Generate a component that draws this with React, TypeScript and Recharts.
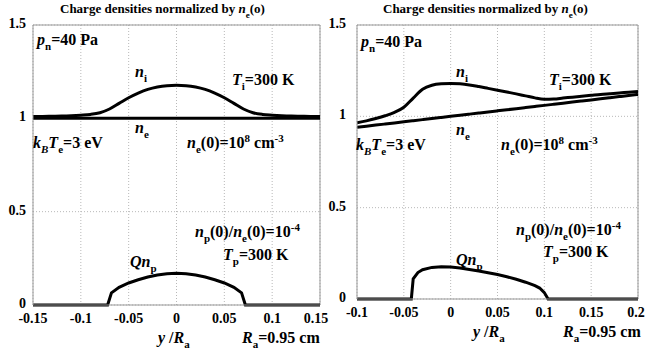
import React from "react";
import { CartesianGrid, Line, LineChart, ReferenceLine, XAxis, YAxis } from "recharts";

// ---- left panel: symmetric case ----
const leftX = [
  -0.15, -0.14, -0.13, -0.12, -0.11, -0.1, -0.09, -0.08, -0.07, -0.06, -0.05, -0.04, -0.03, -0.02, -0.01, 0,
  0.01, 0.02, 0.03, 0.04, 0.05, 0.06, 0.07, 0.08, 0.09, 0.1, 0.11, 0.12, 0.13, 0.14, 0.15,
];
const leftNi = [
  1.01, 1.01, 1.011, 1.012, 1.014, 1.017, 1.021, 1.03, 1.05, 1.08, 1.11, 1.135, 1.155, 1.168, 1.175, 1.177,
  1.175, 1.168, 1.155, 1.135, 1.11, 1.08, 1.05, 1.03, 1.021, 1.017, 1.014, 1.012, 1.011, 1.01, 1.01,
];
const leftNe = [
  1, 1, 1, 1, 1, 1, 1, 1, 1, 1, 1, 1, 1, 1, 1, 1, 1, 1, 1, 1, 1, 1, 1, 1, 1, 1, 1, 1, 1, 1, 1,
];
const leftQX = [
  -0.15, -0.1, -0.072, -0.068, -0.06, -0.05, -0.04, -0.03, -0.02, -0.01, 0, 0.01, 0.02, 0.03, 0.04, 0.05, 0.06,
  0.068, 0.072, 0.1, 0.15,
];
const leftQnp = [
  0, 0, 0, 0.065, 0.095, 0.118, 0.135, 0.15, 0.161, 0.168, 0.17, 0.168, 0.161, 0.15, 0.135, 0.118, 0.095, 0.065,
  0, 0, 0,
];
const leftTicks = [-0.15, -0.1, -0.05, 0, 0.05, 0.1, 0.15];

// ---- right panel: shifted case ----
const rightX = [
  -0.1, -0.09, -0.08, -0.07, -0.06, -0.05, -0.04, -0.03, -0.02, -0.01, 0, 0.01, 0.02, 0.03, 0.04, 0.05, 0.06,
  0.07, 0.08, 0.09, 0.1, 0.11, 0.12, 0.13, 0.14, 0.15, 0.16, 0.17, 0.18, 0.19, 0.2,
];
const rightNi = [
  0.965, 0.975, 0.988, 1.003, 1.022, 1.05, 1.1, 1.148, 1.17, 1.178, 1.18, 1.178, 1.172, 1.163, 1.153, 1.143,
  1.133, 1.123, 1.112, 1.101, 1.094, 1.095, 1.1, 1.105, 1.11, 1.115, 1.12, 1.124, 1.128, 1.132, 1.136,
];
const rightNe = [
  0.94, 0.946, 0.952, 0.958, 0.964, 0.97, 0.976, 0.982, 0.988, 0.994, 1.0, 1.006, 1.012, 1.018, 1.024, 1.03,
  1.036, 1.042, 1.048, 1.054, 1.06, 1.066, 1.072, 1.078, 1.084, 1.09, 1.096, 1.102, 1.108, 1.114, 1.12,
];
const rightQX = [
  -0.1, -0.05, -0.042, -0.04, -0.035, -0.03, -0.02, -0.01, 0, 0.01, 0.02, 0.03, 0.04, 0.05, 0.06, 0.07, 0.08,
  0.09, 0.095, 0.1, 0.104, 0.15, 0.2,
];
const rightQnp = [
  0, 0, 0, 0.11, 0.145, 0.16, 0.173, 0.177, 0.175, 0.17, 0.162, 0.153, 0.144, 0.134, 0.122, 0.108, 0.092, 0.073,
  0.06, 0.035, 0, 0, 0,
];
const rightTicks = [-0.1, -0.05, 0, 0.05, 0.1, 0.15, 0.2];

const yTicks = [0, 0.5, 1, 1.5];

const FONT = '"Liberation Serif", "DejaVu Serif", serif';
const TXT: React.CSSProperties = { fontFamily: FONT, fontWeight: 700 };
const zip = (xs: number[], vs: number[]) => xs.map((x, i) => ({ x, v: vs[i] }));

const XTick = (props: any) => {
  const { x, y, payload } = props;
  return (
    <text x={x} y={y + 16} textAnchor="middle" style={{ ...TXT, fontSize: 14 }} fill="#000">
      {String(payload.value)}
    </text>
  );
};

const makeYTick = (gap: number) => (props: any) => {
  const { x, y, payload } = props;
  return (
    <text x={x - gap} y={y + 3} textAnchor="end" style={{ ...TXT, fontSize: 14 }} fill="#000">
      {String(payload.value)}
    </text>
  );
};

type PanelProps = {
  left: number;
  width: number;
  yAxisWidth: number;
  marginRight: number;
  marginBottom: number;
  domain: [number, number];
  ticks: number[];
  ni: { x: number; v: number }[];
  ne: { x: number; v: number }[];
  qnp: { x: number; v: number }[];
  yGap: number;
};

function Panel(p: PanelProps) {
  return (
    <div style={{ position: "absolute", left: p.left, top: 0 }}>
      <LineChart
        width={p.width}
        height={356}
        margin={{ top: 25, right: p.marginRight, bottom: p.marginBottom, left: 0 }}
      >
        <CartesianGrid stroke="#b8b8b8" strokeDasharray="1 2" />
        <XAxis
          type="number"
          dataKey="x"
          domain={p.domain}
          ticks={p.ticks}
          allowDataOverflow
          height={30}
          axisLine={{ stroke: "#999" }}
          tickLine={false}
          tickSize={0}
          tick={<XTick />}
        />
        <YAxis
          type="number"
          domain={[0, 1.5]}
          ticks={yTicks}
          width={p.yAxisWidth}
          axisLine={{ stroke: "#999" }}
          tickLine={false}
          tickSize={0}
          tick={makeYTick(p.yGap)}
        />
        <ReferenceLine y={1.5} stroke="#999" />
        <ReferenceLine x={p.domain[1]} stroke="#999" />
        <Line data={p.ne} dataKey="v" type="monotone" stroke="#000" strokeWidth={3} dot={false} isAnimationActive={false} />
        <Line data={p.ni} dataKey="v" type="monotone" stroke="#000" strokeWidth={3} dot={false} isAnimationActive={false} />
        <Line data={p.qnp} dataKey="v" type="linear" stroke="#000" strokeWidth={3} dot={false} isAnimationActive={false} />
      </LineChart>
    </div>
  );
}

function Annotations(a: {
  titleX: number;
  pn: [number, number];
  ni: [number, number];
  ti: [number, number];
  ne: [number, number];
  kt: [number, number];
  ne0: [number, number];
  np: [number, number];
  tp: [number, number];
  q: [number, number];
  yr: [number, number];
  ra: [number, number];
}) {
  const big = { ...TXT, fontSize: 16 };
  const sub = 11;
  return (
    <g fill="#000">
      <text x={a.titleX} y={13} style={{ ...TXT, fontSize: 13 }}>
        Charge densities normalized by <tspan fontStyle="italic">n</tspan>
        <tspan fontSize={9} dy={5}>e</tspan>
        <tspan dy={-5}>(o)</tspan>
      </text>
      <text x={a.pn[0]} y={a.pn[1]} style={big}>
        <tspan fontStyle="italic">p</tspan>
        <tspan fontSize={sub} dy={5}>n</tspan>
        <tspan dy={-5}>=40 Pa</tspan>
      </text>
      <text x={a.ni[0]} y={a.ni[1]} style={big}>
        <tspan fontStyle="italic">n</tspan>
        <tspan fontSize={sub} dy={5}>i</tspan>
      </text>
      <text x={a.ti[0]} y={a.ti[1]} style={big}>
        <tspan fontStyle="italic">T</tspan>
        <tspan fontSize={sub} dy={5}>i</tspan>
        <tspan dy={-5}>=300 K</tspan>
      </text>
      <text x={a.ne[0]} y={a.ne[1]} style={big}>
        <tspan fontStyle="italic">n</tspan>
        <tspan fontSize={sub} dy={5}>e</tspan>
      </text>
      <text x={a.kt[0]} y={a.kt[1]} style={big}>
        <tspan fontStyle="italic">k</tspan>
        <tspan fontSize={sub} fontStyle="italic" dy={5}>B</tspan>
        <tspan fontStyle="italic" dy={-5}>T</tspan>
        <tspan fontSize={sub} dy={5}>e</tspan>
        <tspan dy={-5}>=3 eV</tspan>
      </text>
      <text x={a.ne0[0]} y={a.ne0[1]} style={big}>
        <tspan fontStyle="italic">n</tspan>
        <tspan fontSize={sub} dy={5}>e</tspan>
        <tspan dy={-5}>(0)=10</tspan>
        <tspan fontSize={sub} dy={-6}>8</tspan>
        <tspan dy={6}> cm</tspan>
        <tspan fontSize={sub} dy={-6}>-3</tspan>
      </text>
      <text x={a.np[0]} y={a.np[1]} style={big}>
        <tspan fontStyle="italic">n</tspan>
        <tspan fontSize={sub} dy={5}>p</tspan>
        <tspan dy={-5}>(0)/</tspan>
        <tspan fontStyle="italic">n</tspan>
        <tspan fontSize={sub} dy={5}>e</tspan>
        <tspan dy={-5}>(0)=10</tspan>
        <tspan fontSize={sub} dy={-6}>-4</tspan>
      </text>
      <text x={a.tp[0]} y={a.tp[1]} style={big}>
        <tspan fontStyle="italic">T</tspan>
        <tspan fontSize={sub} dy={5}>p</tspan>
        <tspan dy={-5}>=300 K</tspan>
      </text>
      <text x={a.q[0]} y={a.q[1]} style={big}>
        <tspan fontStyle="italic">Qn</tspan>
        <tspan fontSize={sub} dy={5}>p</tspan>
      </text>
      <text x={a.yr[0]} y={a.yr[1]} style={big}>
        <tspan fontStyle="italic">y</tspan>
        <tspan> /</tspan>
        <tspan fontStyle="italic">R</tspan>
        <tspan fontSize={sub} dy={5}>a</tspan>
      </text>
      <text x={a.ra[0]} y={a.ra[1]} style={big}>
        <tspan fontStyle="italic">R</tspan>
        <tspan fontSize={sub} dy={5}>a</tspan>
        <tspan dy={-5}>=0.95 cm</tspan>
      </text>
    </g>
  );
}

export default function App() {
  return (
    <div style={{ position: "absolute", left: 0, top: 0, width: 646, height: 356, background: "#fff", fontFamily: FONT }}>
      <Panel
        left={0}
        width={330}
        yAxisWidth={33}
        marginRight={10}
        marginBottom={21}
        domain={[-0.15, 0.15]}
        ticks={leftTicks}
        ni={zip(leftX, leftNi)}
        ne={zip(leftX, leftNe)}
        qnp={zip(leftQX, leftQnp)}
        yGap={5}
      />
      <Panel
        left={320}
        width={326}
        yAxisWidth={37}
        marginRight={8}
        marginBottom={27}
        domain={[-0.1, 0.2]}
        ticks={rightTicks}
        ni={zip(rightX, rightNi)}
        ne={zip(rightX, rightNe)}
        qnp={zip(rightQX, rightQnp)}
        yGap={9}
      />
      <svg width={646} height={356} style={{ position: "absolute", left: 0, top: 0, pointerEvents: "none" }}>
        <Annotations
          titleX={60}
          pn={[37, 45]}
          ni={[135, 77]}
          ti={[232, 85]}
          ne={[135, 133]}
          kt={[33, 148]}
          ne0={[187, 148]}
          np={[195, 237]}
          tp={[223, 260]}
          q={[130, 267]}
          yr={[158, 343]}
          ra={[242, 343]}
        />
        <Annotations
          titleX={383}
          pn={[361, 47]}
          ni={[456, 77]}
          ti={[549, 85]}
          ne={[456, 135]}
          kt={[356, 150]}
          ne0={[501, 150]}
          np={[516, 235]}
          tp={[543, 257]}
          q={[456, 265]}
          yr={[473, 337]}
          ra={[563, 337]}
        />
      </svg>
    </div>
  );
}
